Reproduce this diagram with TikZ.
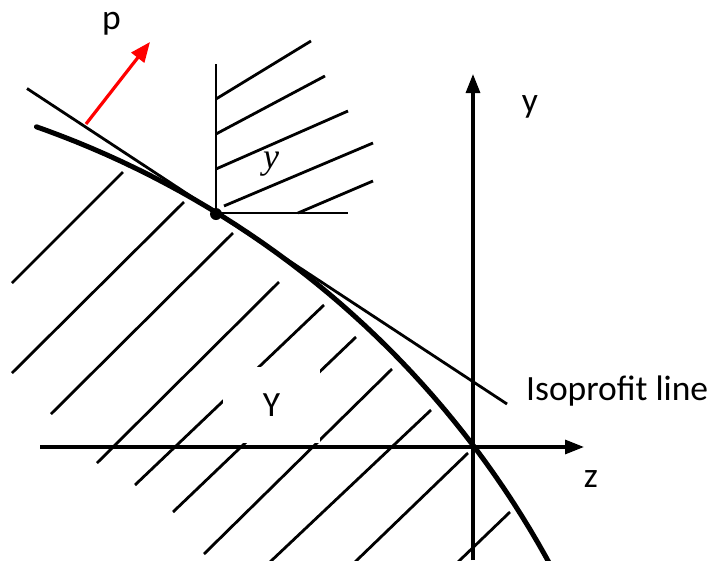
\documentclass[tikz,border=0pt]{standalone}
\usepackage{fontspec}
\setmainfont{Carlito}
\newfontfamily\serifit{Liberation Serif}
\usetikzlibrary{arrows.meta}
\tikzset{
  hatch/.style={line width=2.8pt},
  axisline/.style={line width=3.2pt,-{Triangle[length=19pt,width=14pt]}},
  frontier/.style={line width=5pt,line cap=round},
  iso/.style={line width=2.8pt},
  price/.style={line width=3.2pt,red,-{Triangle[length=20pt,width=16pt]}},
  lbl/.style={inner sep=0pt,anchor=base,font=\fontsize{35.5}{35.5}\selectfont},
}
\begin{document}
\begin{tikzpicture}[x=1pt,y=-1pt]
\useasboundingbox (0,0) rectangle (723,560);
% lower hatch
\draw[hatch] (123,172) -- (12,283);
\draw[hatch] (184,202) -- (12,373);
\draw[hatch] (233,233) -- (51,414);
\draw[hatch] (279,282) -- (97,463);
\draw[hatch] (324,305) -- (135,485);
\draw[hatch] (356,337) -- (173,512);
\draw[hatch] (392,369) -- (204,554);
\draw[hatch] (431,410) -- (270,562);
\draw[hatch] (468,453) -- (355,562);
\draw[hatch] (510,512) -- (458,562);
% label Y with white box
\node[fill=white,inner sep=0pt,minimum width=97pt,minimum height=76pt,font=\fontsize{35.5}{35.5}\selectfont] (Ylab) at (271.5,405) {Y};
% upper hatch
\coordinate (ytop) at (216,64);
\coordinate (ypt) at (216,214);
\coordinate (hend) at (348,213);
\draw[hatch] (ytop) -- (ypt);
\draw[hatch] (216,213) -- (hend);
\draw[hatch] (216,99) -- (311,41);
\draw[hatch] (216,134) -- (325,76);
\draw[hatch] (216,169) -- (348,111);
\draw[hatch] (224,206) -- (373,143);
\draw[hatch] (298,213) -- (373,181);
\node[inner sep=0pt,anchor=base,font=\fontsize{36}{36}\selectfont\serifit\itshape] (ylab) at (271,168) {y};
% axes
\coordinate (zstart) at (40,447);
\coordinate (zend) at (584,447);
\coordinate (ystart) at (473,560);
\coordinate (yend) at (473,74);
\draw[axisline] (zstart) -- (zend);
\draw[axisline] (ystart) -- (yend);
% isoprofit line
\coordinate (isoA) at (27,88.5);
\coordinate (isoB) at (507,404);
\draw[iso] (isoA) -- (isoB);
% frontier
\draw[frontier] plot[domain=70.6:28.3, samples=150] ({-275.8+940*cos(\x)}, {1013.4-940*sin(\x)});
% optimum point
\fill (ypt) circle (6pt);
% price vector
\coordinate (pstart) at (86,124);
\coordinate (pend) at (150,42);
\draw[price] (pstart) -- (pend);
% labels
\node[lbl] (plab) at (111.5,29) {p};
\node[lbl] (yax) at (530,112.7) {y};
\node[lbl] (zax) at (591,487) {z};
\node[lbl,anchor=base west] (isolab) at (526,400) {Isoprofit line};
\end{tikzpicture}
\end{document}
